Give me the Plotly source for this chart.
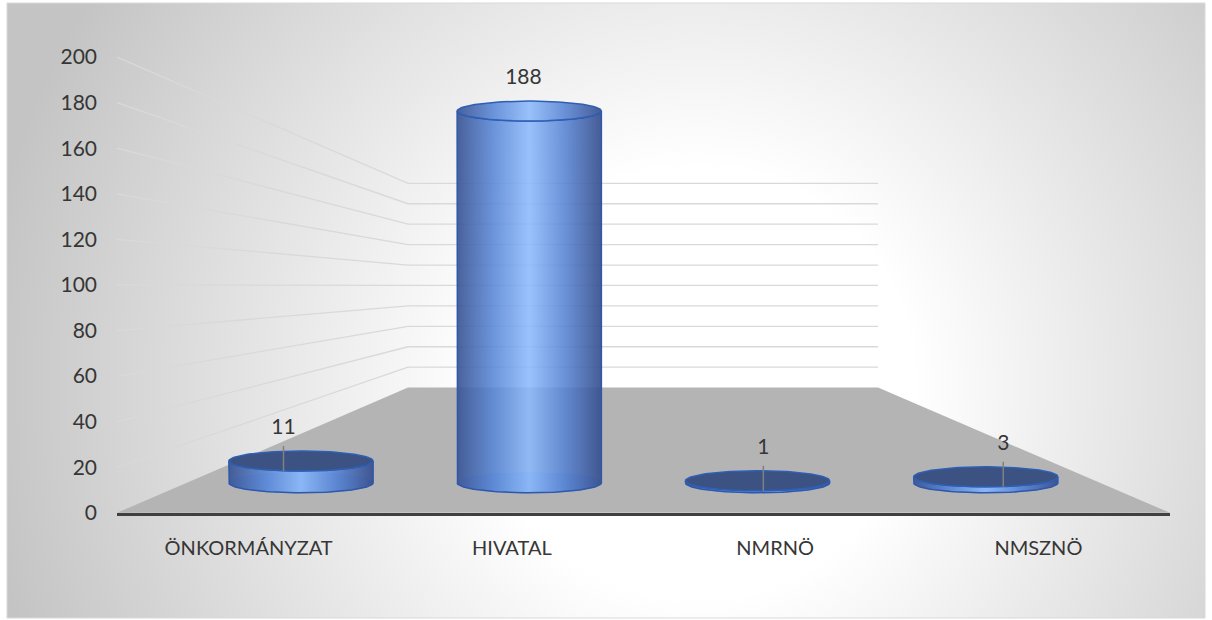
"""Henger-diagram (3D hatású oszlopok) Plotly-val"""

import base64
import numpy as np
import plotly.graph_objects as go

# Adatok
kategoriak = ["ÖNKORMÁNYZAT", "HIVATAL", "NMRNÖ", "NMSZNÖ"]
ertekek = [11, 188, 1, 3]
y_tickek = [0, 20, 40, 60, 80, 100, 120, 140, 160, 180, 200]

W, H = 1212, 620           # tervezési koordináták (px)
H_ABRA = 632               # a böngésző képe függőlegesen ~2%-kal összenyom

# Perspektíva (pixelben): elülső él, hátsó fal
ELO_Y, HATSO_Y = 512, 387
ELO_X0, ELO_X1 = 117, 1170
HATSO_X0, HATSO_X1 = 408, 878
ELO_SKALA = 455 / 200      # px / egység az elülső síkban
HATSO_SKALA = 204 / 200    # px / egység a hátsó falon
MELYSEG = 0.24             # a hengerek mélysége a padlón (0 = elöl, 1 = hátul)

# hengerek síkja
hx0 = ELO_X0 + MELYSEG * (HATSO_X0 - ELO_X0)
hx1 = ELO_X1 + MELYSEG * (HATSO_X1 - ELO_X1)
hy0 = ELO_Y + MELYSEG * (HATSO_Y - ELO_Y)
hskala = ELO_SKALA + MELYSEG * (HATSO_SKALA - ELO_SKALA)
hsav = (hx1 - hx0) / len(kategoriak)   # egy kategória szélessége px-ben

RX = 0.316                 # ellipszis félszélessége (kategória egységben)
RY = 10 / hskala           # ellipszis félmagassága (érték egységben)

FONT = "Lato"
SZURKE = "#363636"

# Háttér: radiális átmenet SVG-ként
svg = f"""<svg xmlns='http://www.w3.org/2000/svg' width='1198' height='614'>
<defs><radialGradient id='g' gradientUnits='userSpaceOnUse' cx='690' cy='380' r='720'>
<stop offset='0' stop-color='#ffffff'/><stop offset='0.3' stop-color='#ffffff'/>
<stop offset='1' stop-color='#c4c4c4'/></radialGradient></defs>
<rect width='1198' height='614' fill='url(#g)'/></svg>"""
hatter = "data:image/svg+xml;base64," + base64.b64encode(svg.encode()).decode()

fig = go.Figure()

# Padló
fig.add_trace(go.Scatter(
    x=[ELO_X0, HATSO_X0, HATSO_X1, ELO_X1, ELO_X0],
    y=[ELO_Y, HATSO_Y, HATSO_Y, ELO_Y, ELO_Y],
    fill="toself", fillcolor="#b4b4b4", mode="lines", line=dict(width=0),
    hoverinfo="skip", showlegend=False, xaxis="x", yaxis="y"))

# Rácsvonalak: oldalfal (ferde) + hátsó fal (vízszintes)
for v in y_tickek[1:]:
    fig.add_trace(go.Scatter(
        x=[ELO_X0, HATSO_X0, HATSO_X1],
        y=[ELO_Y - ELO_SKALA * v, HATSO_Y - HATSO_SKALA * v, HATSO_Y - HATSO_SKALA * v],
        mode="lines", line=dict(color="#d9d9d9", width=1.3),
        hoverinfo="skip", showlegend=False, xaxis="x", yaxis="y"))

# Tengelyfeliratok (elülső sík)
fig.add_trace(go.Scatter(x=[0, 3], y=[0, 0], mode="markers", marker=dict(opacity=0),
                         hoverinfo="skip", showlegend=False, xaxis="x2", yaxis="y2"))

# Hengerek
test_szinek = [[0, "rgba(58,84,148,0.92)"], [0.25, "rgba(88,134,214,0.88)"],
               [0.5, "rgba(140,186,252,0.88)"], [0.75, "rgba(86,130,210,0.88)"],
               [1, "rgba(54,78,140,0.92)"]]
t_also = np.linspace(np.pi, 2 * np.pi, 60)
t_teli = np.linspace(0, 2 * np.pi, 120)
for i, v in enumerate(ertekek):
    # alsó ellipszis (átlátszik a testen)
    fig.add_trace(go.Scatter(
        x=i + RX * np.cos(t_teli), y=RY * np.sin(t_teli),
        fill="toself", fillcolor="rgba(95,145,225,0.6)", mode="lines",
        line=dict(color="#6f9be3", width=1),
        hoverinfo="skip", showlegend=False, xaxis="x3", yaxis="y3"))
    # palást
    bx = np.concatenate([[i - RX], i + RX * np.cos(t_also), [i + RX],
                         i + RX * np.cos(t_also[::-1])])
    by = np.concatenate([[v], RY * np.sin(t_also), [v], v + RY * np.sin(t_also[::-1])])
    fig.add_trace(go.Scatter(
        x=bx, y=by, fill="toself", fillgradient=dict(type="horizontal", colorscale=test_szinek),
        mode="lines", line=dict(color="#2f58a8", width=1.5),
        hoverinfo="skip", showlegend=False, xaxis="x3", yaxis="y3"))
    # fedőlap
    fedo = dict(fillgradient=dict(type="horizontal", colorscale=test_szinek)) \
        if v >= 0.5 * max(ertekek) else dict(fillcolor="#3b5282")
    fig.add_trace(go.Scatter(
        x=i + RX * np.cos(t_teli), y=v + RY * np.sin(t_teli),
        fill="toself", mode="lines", line=dict(color="#2f5fb5", width=1.5),
        hoverinfo="skip", showlegend=False, xaxis="x3", yaxis="y3", **fedo))

# Adatfeliratok + vezetővonalak
cimke_x = [i + (i - 1.5) * 0.051 for i in range(len(ertekek))]
cimke_y = [v + 32 / hskala for v in ertekek]
for cx, cy, v in zip(cimke_x, cimke_y, ertekek):
    if v < 0.5 * max(ertekek):
        fig.add_trace(go.Scatter(
            x=[cx, cx], y=[cy - 17 / hskala, v - 10 / hskala], mode="lines",
            line=dict(color="#808080", width=1.5),
            hoverinfo="skip", showlegend=False, xaxis="x3", yaxis="y3"))
fig.add_trace(go.Scatter(
    x=cimke_x, y=cimke_y, mode="text", text=[str(v) for v in ertekek],
    textposition="middle center", textfont=dict(family=FONT, size=21, color=SZURKE),
    hoverinfo="skip", showlegend=False, xaxis="x3", yaxis="y3"))

# Keret
fig.add_shape(type="rect", xref="x", yref="y", x0=7, y0=3, x1=1205, y1=617,
              line=dict(color="#d9d9d9", width=1), layer="below")

fig.add_layout_image(dict(source=hatter, xref="paper", yref="paper",
                          x=7 / W, y=1 - 3 / H, sizex=1198 / W, sizey=614 / H,
                          sizing="stretch", layer="below"))

rejtett = dict(visible=False, fixedrange=True)
fig.update_layout(
    width=W, height=H_ABRA, margin=dict(l=0, r=0, t=0, b=0),
    paper_bgcolor="white", plot_bgcolor="rgba(0,0,0,0)",
    showlegend=False,
    xaxis=dict(range=[0, W], domain=[0, 1], anchor="y", **rejtett),
    yaxis=dict(range=[H, 0], domain=[0, 1], anchor="x", **rejtett),
    xaxis2=dict(domain=[ELO_X0 / W, ELO_X1 / W], range=[-0.5, 3.5], anchor="y2",
                tickvals=list(range(len(kategoriak))), ticktext=kategoriak,
                showline=True, linecolor="#404040", linewidth=3, ticks="",
                showgrid=False, zeroline=False, ticklabelstandoff=15,
                tickfont=dict(family=FONT, size=20, color=SZURKE)),
    yaxis2=dict(domain=[1 - ELO_Y / H, 1], range=[0, ELO_Y / ELO_SKALA], anchor="x2",
                tickvals=y_tickek, ticks="", showline=False, showgrid=False,
                zeroline=False, ticklabelstandoff=19,
                tickfont=dict(family=FONT, size=21, color=SZURKE)),
    xaxis3=dict(domain=[0, 1], range=[-0.5 - hx0 / hsav, 3.5 + (W - hx1) / hsav],
                anchor="y3", **rejtett),
    yaxis3=dict(domain=[0, 1], range=[-(H - hy0) / hskala, hy0 / hskala],
                anchor="x3", **rejtett),
)

oldal_js = """
document.documentElement.style.cssText = 'margin:0;padding:0;overflow:hidden';
document.body.style.cssText = 'margin:0;padding:0;overflow:hidden';
"""
fig.write_html("out.html", config={"displayModeBar": False}, post_script=oldal_js)
